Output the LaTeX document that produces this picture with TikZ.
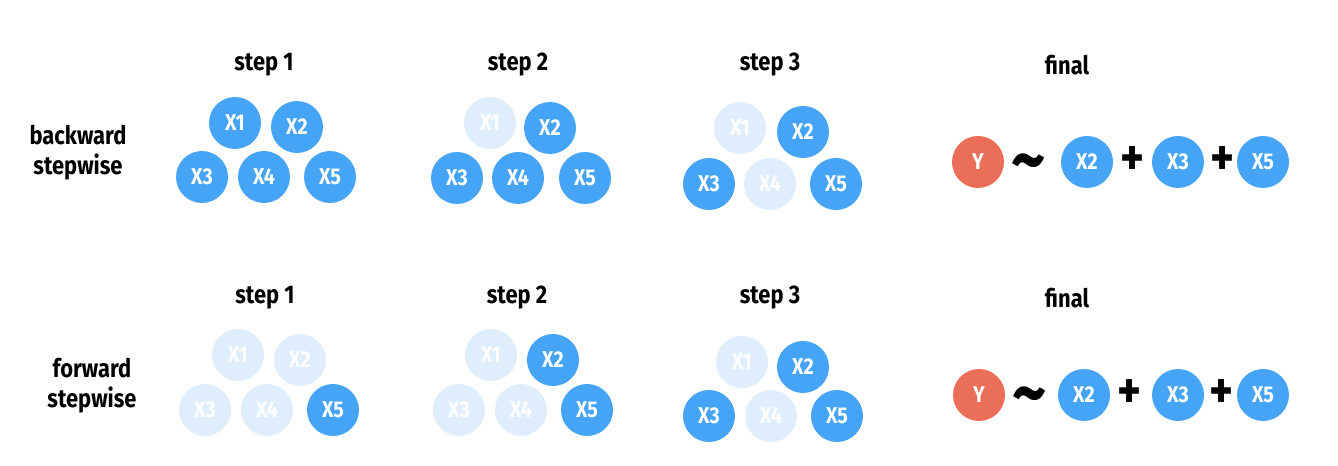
\documentclass[tikz,border=0pt]{standalone}
\usepackage{fontspec}
\setmainfont{Fira Sans}[FakeStretch=0.86]
\definecolor{varblue}{RGB}{69,164,246}
\definecolor{varpale}{RGB}{223,238,252}
\definecolor{resred}{RGB}{235,111,88}

\begin{document}
\begin{tikzpicture}[x=0.02cm, y=-0.02cm,
      font=\bfseries\fontsize{13}{15}\selectfont,
      kept/.style ={circle, fill=varblue, text=white, inner sep = 0pt, minimum size=1.04cm},
      dropped/.style ={circle, fill=varpale, text=white, inner sep = 0pt, minimum size=1.04cm},
      response/.style ={circle, fill=resred, text=white, inner sep = 0pt, minimum size=1.04cm},
      heading/.style ={align=center, inner sep = 0pt, font=\bfseries\fontsize{14.5}{17}\selectfont},
      symb/.style ={inner sep = 0pt, font=\bfseries\fontsize{30}{30}\selectfont},
      wave/.style ={inner sep = 0pt, anchor=base, font=\bfseries\fontsize{44}{44}\selectfont}]
   \useasboundingbox (0,0) rectangle (1338,466);

   % backward stepwise
   \node[heading] (bname) at (78,153) {backward\\[0pt]stepwise};
   \node[heading] (bs1) at (264,65) {step 1};
   \node[heading] (bs2) at (518,65) {step 2};
   \node[heading] (bs3) at (770,65) {step 3};
   \node[heading] (bfin) at (1067,65) {final};

   \node[kept] (b1x1) at (235,123) {X1};
   \node[kept] (b1x2) at (297,127) {X2};
   \node[kept] (b1x3) at (202,177) {X3};
   \node[kept] (b1x4) at (264,177) {X4};
   \node[kept] (b1x5) at (330,177) {X5};

   \node[dropped] (b2x1) at (490,123) {X1};
   \node[kept] (b2x2) at (550,128) {X2};
   \node[kept] (b2x3) at (457,178) {X3};
   \node[kept] (b2x4) at (518,178) {X4};
   \node[kept] (b2x5) at (585,178) {X5};

   \node[dropped] (b3x1) at (740,128) {X1};
   \node[kept] (b3x2) at (803,132) {X2};
   \node[kept] (b3x3) at (709,184) {X3};
   \node[dropped] (b3x4) at (770,184) {X4};
   \node[kept] (b3x5) at (836,184) {X5};

   \node[response] (by) at (978,162) {Y};
   \node[wave] (btilde) at (1029,185) {\textasciitilde};
   \node[kept] (bfx2) at (1087,162) {X2};
   \node[symb] (bplus1) at (1133,161) {+};
   \node[kept] (bfx3) at (1178,162) {X3};
   \node[symb] (bplus2) at (1223,161) {+};
   \node[kept] (bfx5) at (1263,162) {X5};

   % forward stepwise
   \node[heading] (fname) at (92,386) {forward\\[0pt]stepwise};
   \node[heading] (fs1) at (265,298) {step 1};
   \node[heading] (fs2) at (517,298) {step 2};
   \node[heading] (fs3) at (770,298) {step 3};
   \node[heading] (ffin) at (1067,298) {final};

   \node[dropped] (f1x1) at (238,355) {X1};
   \node[dropped] (f1x2) at (300,360) {X2};
   \node[dropped] (f1x3) at (205,410) {X3};
   \node[dropped] (f1x4) at (267,410) {X4};
   \node[kept] (f1x5) at (333,410) {X5};

   \node[dropped] (f2x1) at (491,355) {X1};
   \node[kept] (f2x2) at (553,360) {X2};
   \node[dropped] (f2x3) at (459,410) {X3};
   \node[dropped] (f2x4) at (521,410) {X4};
   \node[kept] (f2x5) at (587,410) {X5};

   \node[dropped] (f3x1) at (742,362) {X1};
   \node[kept] (f3x2) at (803,367) {X2};
   \node[kept] (f3x3) at (709,416) {X3};
   \node[dropped] (f3x4) at (771,416) {X4};
   \node[kept] (f3x5) at (837,416) {X5};

   \node[response] (fy) at (979,395) {Y};
   \node[wave] (ftilde) at (1030,418) {\textasciitilde};
   \node[kept] (ffx2) at (1084,395) {X2};
   \node[symb] (fplus1) at (1130,394) {+};
   \node[kept] (ffx3) at (1178,395) {X3};
   \node[symb] (fplus2) at (1222,394) {+};
   \node[kept] (ffx5) at (1263,395) {X5};
\end{tikzpicture}
\end{document}
